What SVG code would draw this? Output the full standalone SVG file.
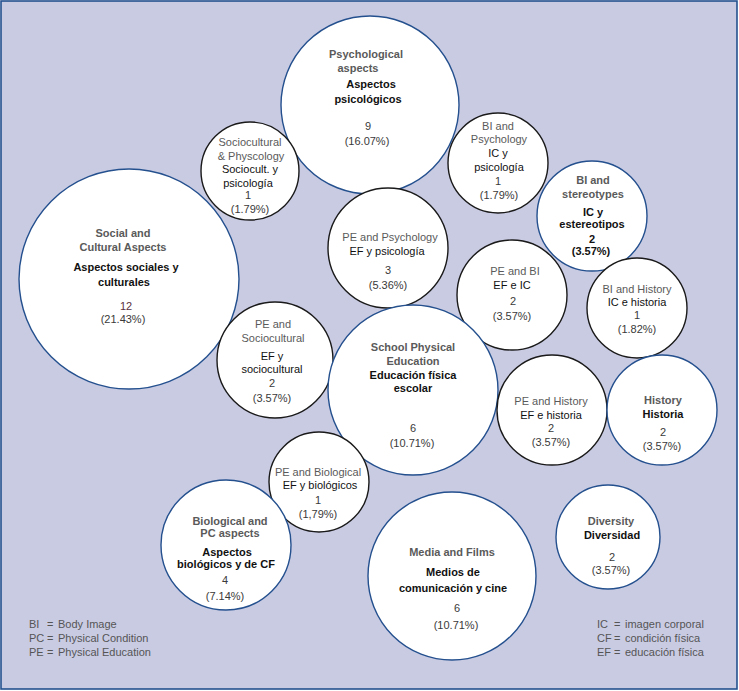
<svg xmlns="http://www.w3.org/2000/svg" width="739" height="691" viewBox="0 0 739 691">
<style>
text{font-family:"Liberation Sans",Arial,sans-serif;font-size:11px;text-anchor:middle}
.main{fill:#fff;stroke:#24508e;stroke-width:1.4}
.sub{fill:#fff;stroke:#1a1a1a;stroke-width:1.4}
.en{fill:#5a5a5a}
.es{fill:#111}
.n{fill:#3a3a3a}
.b{font-weight:bold}
.leg{fill:#555;text-anchor:start;font-size:11px}
</style>
<rect x="1" y="1" width="736" height="688" fill="#c9cbe3" stroke="#24508e" stroke-width="1.6"/>
<g id="connectors"/>

<g id="psychological">
<circle class="main" cx="370" cy="105" r="89"/>
<text class="en b" x="366" y="58">Psychological</text>
<text class="en b" x="358" y="72">aspects</text>
<text class="es b" x="371" y="88">Aspectos</text>
<text class="es b" x="368" y="103">psicológicos</text>
<text class="n" x="368" y="130">9</text>
<text class="n" x="367" y="145">(16.07%)</text>
</g>

<g id="sociocultural-psychology">
<circle class="sub" cx="250" cy="171" r="49"/>
<text class="en" x="250" y="146">Sociocultural</text>
<text class="en" x="251" y="160">&amp; Physcology</text>
<text class="es" x="250" y="173">Sociocult. y</text>
<text class="es" x="248" y="187">psicología</text>
<text class="n" x="248" y="199">1</text>
<text class="n" x="250" y="213">(1.79%)</text>
</g>

<g id="bi-psychology">
<circle class="sub" cx="498" cy="163" r="50"/>
<text class="en" x="498" y="130">BI and</text>
<text class="en" x="499" y="143">Psychology</text>
<text class="es" x="498" y="157">IC y</text>
<text class="es" x="499" y="171">psicología</text>
<text class="n" x="498" y="185">1</text>
<text class="n" x="499" y="199">(1.79%)</text>
</g>

<g id="social-cultural">
<circle class="main" cx="129" cy="279" r="110"/>
<text class="en b" x="123" y="237">Social and</text>
<text class="en b" x="123" y="251">Cultural Aspects</text>
<text class="es b" x="126" y="271">Aspectos sociales y</text>
<text class="es b" x="124" y="286">culturales</text>
<text x="126" y="310" fill="#5c3040">12</text>
<text class="n" x="123" y="323">(21.43%)</text>
</g>

<g id="pe-sociocultural">
<circle class="sub" cx="275" cy="360" r="58"/>
<text class="en" x="273" y="328">PE and</text>
<text class="en" x="273" y="342">Sociocultural</text>
<text class="es" x="272" y="360">EF y</text>
<text class="es" x="272" y="373">sociocultural</text>
<text class="n" x="272" y="387">2</text>
<text class="n" x="272" y="402">(3.57%)</text>
</g>

<g id="pe-psychology">
<circle class="sub" cx="388" cy="248" r="60"/>
<text class="en" x="390" y="241">PE and Psychology</text>
<text class="es" x="387" y="255">EF y psicología</text>
<text class="n" x="388" y="274">3</text>
<text class="n" x="388" y="289">(5.36%)</text>
</g>

<g id="bi-stereotypes">
<circle class="main" cx="592" cy="216" r="55"/>
<text class="en b" x="593" y="184">BI and</text>
<text class="en b" x="593" y="198">stereotypes</text>
<text class="es b" x="593" y="216">IC y</text>
<text class="es b" x="592" y="228">estereotipos</text>
<text class="es b" x="592" y="243">2</text>
<text class="es b" x="591" y="255">(3.57%)</text>
</g>

<g id="pe-bi">
<circle class="sub" cx="512" cy="295" r="55"/>
<text class="en" x="515" y="275">PE and BI</text>
<text class="es" x="512" y="289">EF e IC</text>
<text class="n" x="513" y="305">2</text>
<text class="n" x="512" y="320">(3.57%)</text>
</g>

<g id="bi-history">
<circle class="sub" cx="637" cy="308" r="50"/>
<text class="en" x="637" y="293">BI and History</text>
<text class="es" x="637" y="306">IC e historia</text>
<text class="n" x="637" y="319">1</text>
<text class="n" x="637" y="333">(1.82%)</text>
</g>

<g id="school-pe">
<circle class="main" cx="413" cy="390" r="85"/>
<text class="en b" x="413" y="351">School Physical</text>
<text class="en b" x="413" y="365">Education</text>
<text class="es b" x="413" y="379">Educación física</text>
<text class="es b" x="413" y="392">escolar</text>
<text class="n" x="413" y="432">6</text>
<text class="n" x="412" y="447">(10.71%)</text>
</g>

<g id="pe-history">
<circle class="sub" cx="552" cy="410" r="55"/>
<text class="en" x="551" y="405">PE and History</text>
<text class="es" x="551" y="419">EF e historia</text>
<text class="n" x="551" y="432">2</text>
<text class="n" x="551" y="446">(3.57%)</text>
</g>

<g id="history">
<circle class="main" cx="662" cy="410" r="55"/>
<text class="en b" x="663" y="404">History</text>
<text class="es b" x="663" y="418">Historia</text>
<text class="n" x="663" y="436">2</text>
<text class="n" x="662" y="450">(3.57%)</text>
</g>

<g id="pe-biological">
<circle class="sub" cx="319" cy="482" r="50"/>
<text class="en" x="318" y="476">PE and Biological</text>
<text class="es" x="320" y="489">EF y biológicos</text>
<text class="n" x="318" y="504">1</text>
<text class="n" x="318" y="518">(1,79%)</text>
</g>

<g id="biological-pc">
<circle class="main" cx="226" cy="545" r="65"/>
<text class="en b" x="230" y="525">Biological and</text>
<text class="en b" x="230" y="537">PC aspects</text>
<text class="es b" x="227" y="556">Aspectos</text>
<text class="es b" x="226" y="568">biológicos y de CF</text>
<text class="n" x="225" y="584">4</text>
<text class="n" x="225" y="600">(7.14%)</text>
</g>

<g id="media-films">
<circle class="main" cx="452" cy="576" r="84"/>
<text class="en b" x="452" y="556">Media and Films</text>
<text class="es b" x="453" y="576">Medios de</text>
<text class="es b" x="453" y="592">comunicación y cine</text>
<text class="n" x="457" y="612">6</text>
<text class="n" x="456" y="629">(10.71%)</text>
</g>

<g id="diversity">
<circle class="main" cx="608" cy="537" r="52"/>
<text class="en b" x="611" y="525">Diversity</text>
<text class="es b" x="612" y="539">Diversidad</text>
<text class="n" x="612" y="561">2</text>
<text class="n" x="611" y="574">(3.57%)</text>
</g>

<g id="legend-left">
<text class="leg" y="628"><tspan x="29">BI</tspan><tspan x="47">=</tspan><tspan x="58">Body Image</tspan></text>
<text class="leg" y="642"><tspan x="29">PC</tspan><tspan x="47">=</tspan><tspan x="58">Physical Condition</tspan></text>
<text class="leg" y="656"><tspan x="29">PE</tspan><tspan x="47">=</tspan><tspan x="58">Physical Education</tspan></text>
</g>

<g id="legend-right">
<text class="leg" y="628"><tspan x="597">IC</tspan><tspan x="614">=</tspan><tspan x="625">imagen corporal</tspan></text>
<text class="leg" y="642"><tspan x="597">CF</tspan><tspan x="614">=</tspan><tspan x="625">condición física</tspan></text>
<text class="leg" y="656"><tspan x="597">EF</tspan><tspan x="614">=</tspan><tspan x="625">educación física</tspan></text>
</g>
</svg>
